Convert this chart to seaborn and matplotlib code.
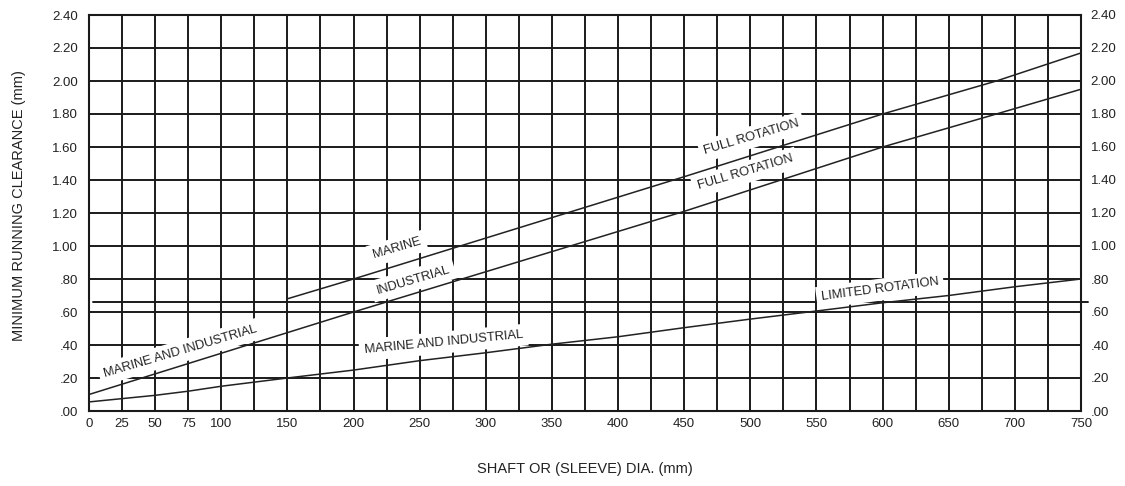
import matplotlib
matplotlib.use("Agg")
import matplotlib.pyplot as plt
import seaborn as sns
import pandas as pd

# ---- data ----
upper_x = [150, 200, 450, 600, 686, 750]
upper_y = [0.68, 0.80, 1.42, 1.80, 2.00, 2.17]

straight_x = [0, 150, 200, 450, 600, 686, 750]
straight_y = [0.10, 0.475, 0.60, 1.21, 1.60, 1.80, 1.95]

lower_x = [0, 25, 50, 75, 100, 125, 150, 200, 250, 300, 350, 400, 450, 500, 550, 600, 650, 700, 750]
lower_y = [0.055, 0.075, 0.095, 0.12, 0.15, 0.175, 0.20, 0.248, 0.305, 0.353, 0.405, 0.45,
           0.505, 0.557, 0.606, 0.656, 0.70, 0.753, 0.80]

extra_line_y = 0.66

x_ticks = [0, 25, 50, 75, 100, 150, 200, 250, 300, 350, 400, 450, 500, 550, 600, 650, 700, 750]
y_ticks = [0.0, 0.2, 0.4, 0.6, 0.8, 1.0, 1.2, 1.4, 1.6, 1.8, 2.0, 2.2, 2.4]
y_tick_labels = [".00", ".20", ".40", ".60", ".80", "1.00", "1.20", "1.40", "1.60", "1.80",
                 "2.00", "2.20", "2.40"]

labels = ["MARINE AND INDUSTRIAL", "MARINE", "INDUSTRIAL", "FULL ROTATION", "FULL ROTATION",
          "MARINE AND INDUSTRIAL", "LIMITED ROTATION"]
label_x = [69, 233, 245, 501, 496, 268, 598]
label_y = [0.36, 0.985, 0.795, 1.66, 1.445, 0.415, 0.735]
label_rot = [16.5, 16.5, 16.5, 16.5, 16.5, 5.5, 7.5]

# ---- plotting ----
sns.set_style("white")
plt.rcParams['font.family'] = ['Liberation Sans', 'DejaVu Sans']

fig = plt.figure(figsize=(11.25, 4.86), dpi=100)
ax = fig.add_axes([89 / 1125, 75 / 486, (1081 - 89) / 1125, (411 - 15) / 486])

df_u = pd.DataFrame({"x": upper_x, "y": upper_y})
df_s = pd.DataFrame({"x": straight_x, "y": straight_y})
df_l = pd.DataFrame({"x": lower_x, "y": lower_y})
for d in (df_u, df_s, df_l):
    sns.lineplot(data=d, x="x", y="y", ax=ax, color="#222222", lw=1.1, zorder=4,
                 estimator=None, sort=True)

ax.set_xlim(0, 750)
ax.set_ylim(0, 2.4)

# grid
for gx in range(25, 750, 25):
    ax.axvline(gx, color="#1a1a1a", lw=1.4, zorder=1)
for gy in y_ticks[1:-1]:
    ax.axhline(gy, color="#1a1a1a", lw=1.4, zorder=1)
ax.plot([0.004, 1.007], [extra_line_y, extra_line_y], color="#1a1a1a", lw=1.4,
        transform=ax.get_yaxis_transform(), clip_on=False, zorder=1)

for s in ax.spines.values():
    s.set_color("#1a1a1a")
    s.set_linewidth(1.5)

tick_fs = 9.5
ax.set_xticks(x_ticks)
ax.set_xticklabels([str(v) for v in x_ticks], fontsize=tick_fs, color="#222222")
ax.set_yticks(y_ticks)
ax.set_yticklabels(y_tick_labels, fontsize=tick_fs, color="#222222")
ax.tick_params(axis="y", length=0, pad=8)
ax.tick_params(axis="x", length=0, pad=5)

ax2 = ax.twinx()
ax2.set_ylim(0, 2.4)
ax2.set_yticks(y_ticks)
ax2.set_yticklabels(y_tick_labels, fontsize=tick_fs, color="#222222")
ax2.tick_params(length=0, pad=7)
for s in ax2.spines.values():
    s.set_visible(False)

ax.set_xlabel("SHAFT OR (SLEEVE) DIA. (mm)", fontsize=10.5, color="#222222")
ax.xaxis.set_label_coords(0.5, -0.128)
ax.set_ylabel("MINIMUM RUNNING CLEARANCE (mm)", fontsize=10.5, color="#222222")
ax.yaxis.set_label_coords(-0.064, 0.52)

for t, x, y, r in zip(labels, label_x, label_y, label_rot):
    ax.text(x, y, t, rotation=r, rotation_mode="anchor", ha="center", va="center",
            fontsize=9.3, color="#222222", zorder=3,
            bbox=dict(facecolor="white", edgecolor="none", pad=3.5))

fig.savefig("out.png", dpi=100)
